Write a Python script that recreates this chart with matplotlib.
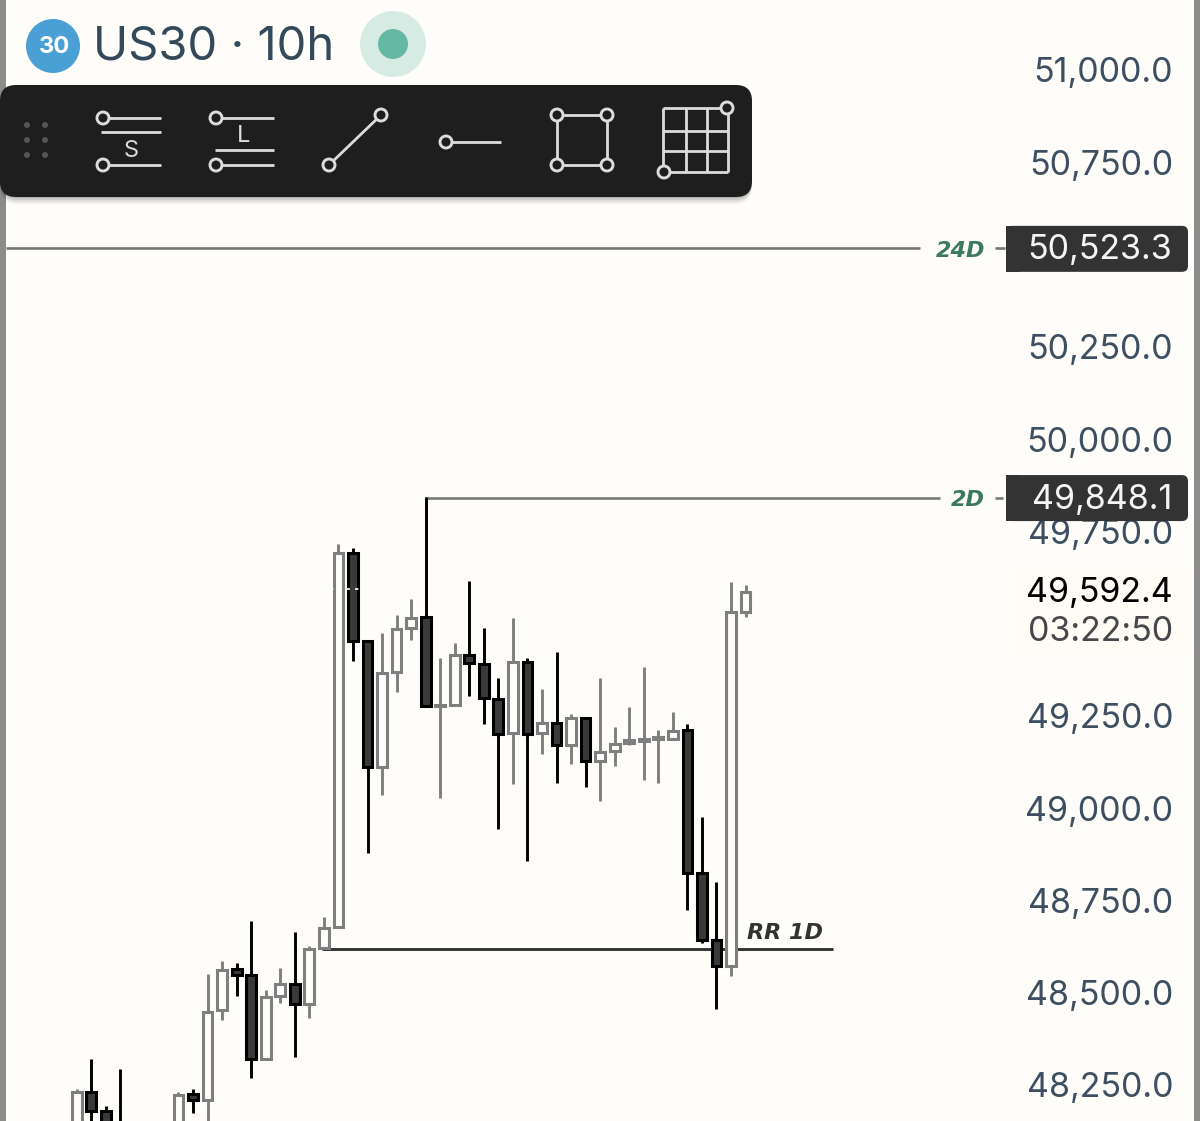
import matplotlib
matplotlib.use("Agg")
import matplotlib.pyplot as plt
from matplotlib.patches import Circle, FancyBboxPatch, Rectangle

BG = "#fffdf9"
UP_EDGE = "#7f7f7f"
DOWN_FILL = "#3a3a3a"
TEXT = "#3d4f60"
TAG = "#333333"
GREEN = "#3c7a60"
ICON = "#dcdcdc"
BAR_DARK = "#1e1e1e"

# bars 4 to 6 sit below the bottom edge of the screenshot
bar_index = [0, 1, 2, 3, 7, 8, 9, 10, 11, 12, 13, 14, 15, 16, 17, 18, 19, 20, 21, 22, 23,
             24, 25, 26, 27, 28, 29, 30, 31, 32, 33, 34, 35, 36, 37, 38, 39, 40, 41, 42,
             43, 44, 45, 46]
opens = [48115, 48231, 48180, 48142, 48128, 48226, 48209, 48453, 48564, 48548, 48320,
         48491, 48524, 48469, 48621, 48678, 49691, 49453, 49111, 49369, 49488, 49518,
         49277, 49279, 49415, 49390, 49296, 49204, 49396, 49204, 49231, 49171, 49244,
         49128, 49155, 49176, 49182, 49187, 49187, 49212, 48824, 48643, 48572, 49531]
highs = [48239, 48320, 48193, 48293, 48231, 48239, 48551, 48586, 48580, 48694, 48507,
         48567, 48664, 48627, 48705, 49716, 49705, 49453, 49474, 49523, 49567, 49843,
         49407, 49447, 49615, 49488, 49353, 49515, 49407, 49323, 49423, 49255, 49244,
         49353, 49220, 49274, 49382, 49212, 49260, 49228, 48976, 48800, 49613, 49604]
lows = [48115, 48142, 48115, 48101, 48115, 48174, 48142, 48426, 48491, 48269, 48320,
        48472, 48326, 48431, 48621, 48678, 49399, 48878, 49036, 49315, 49455, 49277,
        49027, 49279, 49304, 49228, 48943, 49065, 48857, 49147, 49068, 49120, 49057,
        49019, 49114, 49171, 49076, 49068, 49185, 48724, 48635, 48456, 48545, 49518]
closes = [48231, 48180, 48128, 48115, 48223, 48209, 48448, 48561, 48548, 48320, 48488,
          48524, 48469, 48618, 48675, 49691, 49453, 49111, 49366, 49485, 49515, 49277,
          49279, 49415, 49393, 49298, 49201, 49396, 49201, 49231, 49171, 49244, 49128,
          49152, 49174, 49185, 49187, 49193, 49209, 48824, 48643, 48572, 49531, 49586]

axis_prices = [51000, 50750, 50250, 50000, 49750, 49250, 49000, 48750, 48500, 48250]
level_24d = 50523.3
level_2d = 49848.1
level_rr = 48621
last_price = 49592.4
countdown = "03:22:50"

PX_PER_BAR = 14.54
FIRST_BAR_PX = 76.7
PX_PER_POINT = 0.3691
LINE_SHIFT = 2.5  # level lines sit a little under their tag value in the screenshot


def ix(px):
    return (px - FIRST_BAR_PX) / PX_PER_BAR


def py(price):
    return 439 + (50000 - price) * PX_PER_POINT


def lower(price, px):
    return price - px / PX_PER_POINT


def draw_candles(ax):
    for i, o, h, l, c in zip(bar_index, opens, highs, lows, closes):
        up = c >= o
        edge = UP_EDGE if up else "black"
        fill = BG if up else DOWN_FILL
        ax.vlines(i, l, h, color=edge, lw=2.1, zorder=3)
        ax.bar(i, abs(c - o), bottom=min(o, c), width=0.67, color=fill, edgecolor=edge,
               linewidth=2.2, zorder=4)


def draw_levels(ax):
    y24 = lower(level_24d, LINE_SHIFT)
    y2 = lower(level_2d, LINE_SHIFT)
    ax.hlines(y24, ix(6), ix(920), color="#777777", lw=1.9, zorder=2)
    ax.hlines(y24, ix(995), ix(1005), color="#777777", lw=1.9, zorder=2)
    ax.hlines(y2, ix(425), ix(940), color="#777777", lw=1.9, zorder=2)
    ax.hlines(y2, ix(995), ix(1003), color="#777777", lw=1.9, zorder=2)
    ax.hlines(lower(level_rr, 0.6), ix(322), ix(833), color="#333333", lw=2.1, zorder=2)
    # white dashes of the live price line, only visible over the two tall candles
    ax.plot([ix(330), ix(361)], [last_price, last_price], color="white", lw=1.2,
            dashes=(2, 3), zorder=5)
    label = dict(family="DejaVu Sans", weight="bold", style="italic", fontsize=16)
    ax.text(ix(747), level_rr + 13, "RR 1D", color="#333333", ha="left", va="bottom", **label)
    ax.text(ix(985), lower(level_24d, 5.5), "24D", color=GREEN, ha="right", va="center", **label)
    ax.text(ix(985), lower(level_2d, 4.5), "2D", color=GREEN, ha="right", va="center", **label)


def price_tag(ov, price):
    y = py(price) + 3
    ov.add_patch(FancyBboxPatch((1010, y - 19), 174, 38, boxstyle="round,pad=4,rounding_size=6",
                                fc=TAG, ec="none", zorder=6))
    ov.add_patch(Rectangle((1006, y - 23), 14, 46, fc=TAG, ec="none", zorder=6))
    ov.text(1172, py(price) + 4.5, f"{price:,.1f}", family="Inter", fontsize=24.5, color="#f4f4f4",
            ha="right", va="center", zorder=7)


def node(ov, x, y, r=6):
    ov.add_patch(Circle((x, y), r, fc=BAR_DARK, ec=ICON, lw=2.1, zorder=12))


def seg(ov, x0, y0, x1, y1):
    ov.plot([x0, x1], [y0, y1], color=ICON, lw=2.0, solid_capstyle="butt", zorder=11)


def draw_toolbar(ov):
    for k, a in zip([7, 5, 3, 1], [0.05, 0.07, 0.09, 0.12]):
        ov.add_patch(FancyBboxPatch((14, 99 + k), 724, 84, boxstyle="round,pad=14,rounding_size=18",
                                    fc="black", ec="none", alpha=a, zorder=8))
    ov.add_patch(FancyBboxPatch((14, 99), 724, 84, boxstyle="round,pad=14,rounding_size=16",
                                fc=BAR_DARK, ec="none", zorder=9))

    for x in [27, 45]:
        for y in [125, 140, 155]:
            ov.add_patch(Circle((x, y), 3, fc="#555555", ec="none", zorder=10))

    # short position
    seg(ov, 103, 118, 161, 118)
    seg(ov, 101, 132, 161, 132)
    seg(ov, 103, 165, 161, 165)
    node(ov, 103, 118)
    node(ov, 103, 165)
    ov.text(131, 151, "S", family="Inter", fontsize=17, color=ICON, ha="center", va="center", zorder=11)

    # long position
    seg(ov, 216, 118, 274, 118)
    seg(ov, 215, 150, 274, 150)
    seg(ov, 216, 165, 274, 165)
    node(ov, 216, 118)
    node(ov, 216, 165)
    ov.text(244, 136, "L", family="Inter", fontsize=17, color=ICON, ha="center", va="center", zorder=11)

    # trend line
    seg(ov, 329, 165, 381, 115)
    node(ov, 381, 115)
    node(ov, 329, 165)

    # ray
    seg(ov, 446, 142, 501, 142)
    node(ov, 446, 142)

    # rectangle
    seg(ov, 557, 115, 607, 115)
    seg(ov, 607, 115, 607, 165)
    seg(ov, 607, 165, 557, 165)
    seg(ov, 557, 165, 557, 115)
    for x, y in [(557, 115), (607, 115), (557, 165), (607, 165)]:
        node(ov, x, y)

    # grid
    for x in [663, 686, 707, 728]:
        seg(ov, x, 108, x, 172)
    for y in [108, 131, 151, 172]:
        seg(ov, 663, y, 728, y)
    node(ov, 727, 108)
    node(ov, 664, 172)


fig = plt.figure(figsize=(12, 11.21), dpi=100, facecolor=BG)

ax = fig.add_axes([0, 0, 1, 1], facecolor=BG)
ax.set_xlim(ix(0), ix(1200))
ax.set_ylim(50000 - (1121 - 439) / PX_PER_POINT, 50000 + 439 / PX_PER_POINT)
for s in ax.spines.values():
    s.set_visible(False)
ax.xaxis.set_visible(False)
ax.yaxis.tick_right()
ax.set_yticks(axis_prices)
ax.set_yticklabels([f"{p:,.1f}" for p in axis_prices], family="Inter", fontsize=24.5,
                   color=TEXT, ha="right")
ax.tick_params(axis="y", length=0, pad=-19.4)

draw_levels(ax)
draw_candles(ax)

# second axes in screen pixels for the app chrome
ov = fig.add_axes([0, 0, 1, 1], facecolor="none")
ov.set_xlim(0, 1200)
ov.set_ylim(1121, 0)
ov.axis("off")

ov.add_patch(Rectangle((0, 0), 6, 1121, fc="#8c8c8c", ec="none", zorder=1))
ov.add_patch(Rectangle((1194, 0), 6, 1121, fc="#8c8c8c", ec="none", zorder=1))

ov.add_patch(Circle((53, 46), 27, fc="#4a9fd4", ec="none"))
ov.text(54, 47, "30", family="Inter", weight="bold", fontsize=17, color="white",
        ha="center", va="center")
ov.text(93, 48, "US30 · 10h", family="Inter", fontsize=34, color="#34495a", ha="left", va="center")
ov.add_patch(Circle((393, 44), 33, fc="#d6ebe4", ec="none"))
ov.add_patch(Circle((393, 44), 15, fc="#65b9a3", ec="none"))

draw_toolbar(ov)
price_tag(ov, level_24d)
price_tag(ov, level_2d)

ov.add_patch(Rectangle((1012, 570), 180, 85, fc="#fffcf5", ec="none", zorder=5))
ov.text(1173, py(last_price) + 4, f"{last_price:,.1f}", family="Inter", fontsize=24.5, color="black",
        ha="right", va="center", zorder=6)
ov.text(1173, 632, countdown, family="Inter", fontsize=24.5, color="#45474a",
        ha="right", va="center", zorder=6)

fig.savefig("out.png", dpi=100, facecolor=BG)
